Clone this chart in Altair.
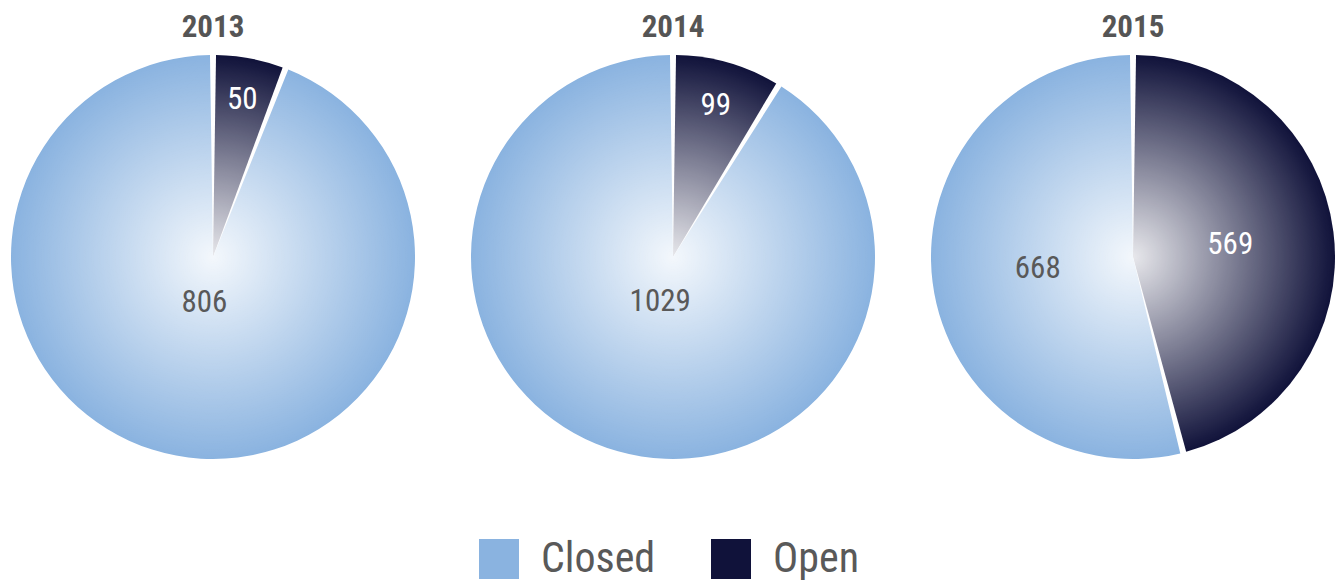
import altair as alt
import pandas as pd

# ---- data ----
years = ["2013", "2014", "2015"]
closed = [806, 1029, 668]
open_ = [50, 99, 569]
statuses = ["Closed", "Open"]

# ---- style ----
FONT = "Roboto Condensed, Liberation Sans Narrow, DejaVu Sans Condensed, Roboto, sans-serif"
COL_CLOSED = "#8ab3e0"
COL_OPEN = "#10123a"
TXT = "#595959"
CELL = 404
R = CELL / 2
# label distance from the pie centre, per year: (Open, Closed)
LABEL_R = {"2013": (160, 47), "2014": (157, 47), "2015": (98, 96)}

rows = []
for y, c, o in zip(years, closed, open_):
    lo, lc = LABEL_R[y]
    rows.append({"year": y, "status": "Open", "value": o, "order": 0, "lr": lo})
    rows.append({"year": y, "status": "Closed", "value": c, "order": 1, "lr": lc})
df = pd.DataFrame(rows)

pie = (
    alt.Chart()
    .mark_arc(padAngle=0.03, strokeWidth=0)
    .encode(
        theta=alt.Theta("value:Q", stack=True),
        order=alt.Order("order:Q"),
        radius=alt.value(R),
        color=alt.Color(
            "status:N",
            scale=alt.Scale(domain=statuses, range=[COL_CLOSED, COL_OPEN]),
            legend=alt.Legend(
                title=None,
                orient="none",
                legendX=467,
                legendY=483,
                direction="horizontal",
                symbolType="square",
                symbolSize=1600,
                symbolStrokeWidth=0,
                labelFontSize=42,
                labelFont=FONT,
                labelColor=TXT,
                labelOffset=21,
                columnPadding=54,
                labelLimit=300,
                padding=0,
            ),
        ),
    )
)

glow = alt.Gradient(
    gradient="radial",
    stops=[
        alt.GradientStop(color="rgba(255,255,255,0.9)", offset=0),
        alt.GradientStop(color="rgba(255,255,255,0.45)", offset=0.5),
        alt.GradientStop(color="rgba(255,255,255,0)", offset=1),
    ],
    x1=0.5, y1=0.5, r1=0,
    x2=0.5, y2=0.5, r2=0.5,
)

overlay = (
    alt.Chart()
    .transform_aggregate(total="sum(value)", groupby=["year"])
    .mark_arc(fill=glow, strokeWidth=0)
    .encode(theta=alt.Theta("total:Q"), radius=alt.value(R))
)

labels = (
    alt.Chart()
    .transform_joinaggregate(total="sum(value)", groupby=["year"])
    .transform_window(
        cum="sum(value)",
        sort=[alt.SortField("order")],
        groupby=["year"],
        frame=[None, 0],
    )
    .transform_calculate(mid="(datum.cum - datum.value / 2) / datum.total")
    .mark_text(fontSize=31, font=FONT)
    .encode(
        theta=alt.Theta("mid:Q", stack=False, scale=alt.Scale(domain=[0, 1])),
        radius=alt.Radius("lr:Q", scale=None),
        text=alt.Text("value:Q"),
        color=alt.condition("datum.status == 'Open'", alt.value("white"), alt.value(TXT)),
    )
)

chart = (
    alt.layer(pie, overlay, labels, data=df)
    .resolve_scale(theta="independent")
    .properties(width=CELL, height=CELL)
    .facet(
        column=alt.Column(
            "year:N",
            title=None,
            header=alt.Header(
                title=None,
                labelFontSize=31,
                labelFontWeight="bold",
                labelFont=FONT,
                labelColor="#555555",
                labelPadding=11,
            ),
        ),
        spacing=56,
    )
    .configure_view(stroke=None)
    .configure(padding={"top": 4, "left": 3, "right": 0, "bottom": 0})
)

chart.save("out.html", embed_options={"renderer": "svg", "actions": False})
